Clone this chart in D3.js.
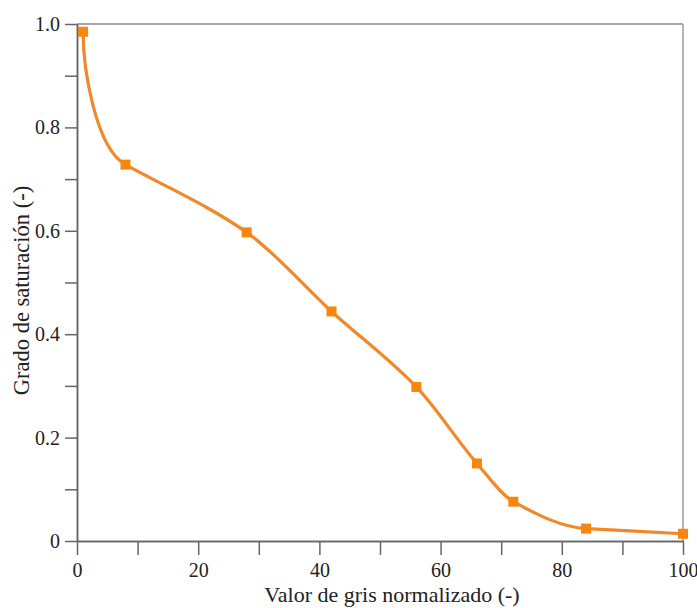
<!DOCTYPE html>
<html><head><meta charset="utf-8">
<script src="https://cdn.jsdelivr.net/npm/d3@7"></script>
<style>
body{margin:0;background:#fff;}
text{font-family:"Liberation Serif","Times New Roman",serif;}
</style></head><body>
<svg id="c" width="697" height="608"></svg>
<script>
const xValues = [1, 8, 28, 42, 56, 66, 72, 84, 100];
const yValues = [0.985, 0.728, 0.597, 0.444, 0.298, 0.150, 0.076, 0.024, 0.014];
const xTicks = [0, 20, 40, 60, 80, 100];
const xMinorTicks = [10, 30, 50, 70, 90];
const yTicks = [0, 0.2, 0.4, 0.6, 0.8, 1.0];
const yTickLabels = ["0", "0.2", "0.4", "0.6", "0.8", "1.0"];
const yMinorTicks = [0.1, 0.3, 0.5, 0.7, 0.9];
const xTitle = "Valor de gris normalizado (-)";
const yTitle = "Grado de saturación (-)";

const svg = d3.select("#c");
const L = 77, R = 683, T = 24, B = 541;
const x = d3.scaleLinear().domain([0, 100]).range([L, R]);
const y = d3.scaleLinear().domain([0, 1]).range([B, T]);
const axisColor = "#666";
const FONT = "'Liberation Serif', 'Times New Roman', serif";

// Custom smooth curve: cubic Hermite with harmonic-mean tangents
// (min tangent at sharp knees), near-vertical start for the first segment.
function SmoothCurve(ctx) { this._ctx = ctx; }
SmoothCurve.prototype = {
  areaStart() {}, areaEnd() {},
  lineStart() { this._p = []; },
  point(px, py) { this._p.push([+px, +py]); },
  lineEnd() {
    const p = this._p, n = p.length, c = this._ctx;
    if (!n) return;
    c.moveTo(p[0][0], p[0][1]);
    if (n < 3) { for (let i = 1; i < n; i++) c.lineTo(p[i][0], p[i][1]); return; }
    const m = [];
    for (let i = 0; i < n - 1; i++) m.push((p[i + 1][1] - p[i][1]) / (p[i + 1][0] - p[i][0]));
    const t = new Array(n);
    for (let i = 1; i < n - 1; i++) {
      const a = m[i - 1], b = m[i];
      if (a * b <= 0) { t[i] = 0; continue; }
      const A = Math.abs(a), Bv = Math.abs(b);
      const ratio = Math.max(A, Bv) / Math.min(A, Bv);
      t[i] = Math.sign(b) * (ratio > 4 ? Math.min(A, Bv) : 2 * A * Bv / (A + Bv));
    }
    t[n - 1] = (3 * m[n - 2] - t[n - 2]) / 2;
    if (t[n - 1] * m[n - 2] < 0) t[n - 1] = 0;
    {
      const [x0, y0] = p[0], [x1, y1] = p[1];
      const Ln = Math.hypot(x1 - x0, y1 - y0);
      const nT = Math.hypot(1, t[1]);
      const T1 = [1 / nT, t[1] / nT];
      const ch = [(x1 - x0) / Ln, (y1 - y0) / Ln];
      const dot = ch[0] * T1[0] + ch[1] * T1[1];
      let T0 = [2 * dot * ch[0] - T1[0], 2 * dot * ch[1] - T1[1]];
      if (T0[0] < 0) T0 = [0, Math.sign(T0[1])];
      const k = 0.25 * Ln;
      c.bezierCurveTo(x0 + T0[0] * k, y0 + T0[1] * k, x1 - T1[0] * k, y1 - T1[1] * k, x1, y1);
    }
    for (let i = 1; i < n - 1; i++) {
      const [xa, ya] = p[i], [xb, yb] = p[i + 1];
      const h = (xb - xa) / 3;
      c.bezierCurveTo(xa + h, ya + t[i] * h, xb - h, yb - t[i + 1] * h, xb, yb);
    }
  }
};
const curveSmooth = ctx => new SmoothCurve(ctx);

// frame top/right
svg.append("line").attr("x1", L).attr("x2", R).attr("y1", T).attr("y2", T).attr("stroke", "#8a8a8a").attr("stroke-width", 1.5);
svg.append("line").attr("x1", R).attr("x2", R).attr("y1", T).attr("y2", B).attr("stroke", "#9a9a9a").attr("stroke-width", 1.5);

// x axis
const gx = svg.append("g").attr("transform", `translate(0,${B})`)
  .call(d3.axisBottom(x).tickValues(xTicks).tickSize(14).tickSizeOuter(0).tickPadding(8).tickFormat(d3.format("d")));
const gxm = svg.append("g").attr("transform", `translate(0,${B})`)
  .call(d3.axisBottom(x).tickValues(xMinorTicks).tickSize(14).tickSizeOuter(0).tickFormat(""));
// y axis
const gy = svg.append("g").attr("transform", `translate(${L},0)`)
  .call(d3.axisLeft(y).tickValues(yTicks).tickSize(12).tickSizeOuter(0).tickPadding(5).tickFormat((d, i) => yTickLabels[i]));
const gym = svg.append("g").attr("transform", `translate(${L},0)`)
  .call(d3.axisLeft(y).tickValues(yMinorTicks).tickSize(12).tickSizeOuter(0).tickFormat(""));

[gx, gxm, gy, gym].forEach(g => {
  g.attr("font-family", FONT).attr("font-size", 20);
  g.select(".domain").attr("stroke", axisColor).attr("stroke-width", 1.5);
  g.selectAll(".tick line").attr("stroke", axisColor).attr("stroke-width", 1.5);
  g.selectAll(".tick text").attr("fill", "#222").style("font-size", "20px").style("font-family", FONT);
});

// curve
const pts = xValues.map((v, i) => [v, yValues[i]]);
const line = d3.line().x(d => x(d[0])).y(d => y(d[1])).curve(curveSmooth);
svg.append("path").datum(pts).attr("d", line).attr("fill", "none")
  .attr("stroke", "#f0892a").attr("stroke-width", 3.2).attr("stroke-linejoin", "round");

const ms = 10;
svg.selectAll("rect.m").data(pts).enter().append("rect").attr("class", "m")
  .attr("x", d => x(d[0]) - ms / 2).attr("y", d => y(d[1]) - ms / 2)
  .attr("width", ms).attr("height", ms).attr("fill", "#f7860f");

// titles
svg.append("text").attr("x", 392).attr("y", 602).attr("text-anchor", "middle")
  .style("font-size", "22px").style("font-family", FONT).attr("fill", "#222").text(xTitle);
svg.append("text").attr("transform", `translate(29,${(T + B) / 2 + 8}) rotate(-90)`)
  .attr("text-anchor", "middle").style("font-size", "22.5px").style("font-family", FONT).attr("fill", "#222").text(yTitle);
</script></body></html>
